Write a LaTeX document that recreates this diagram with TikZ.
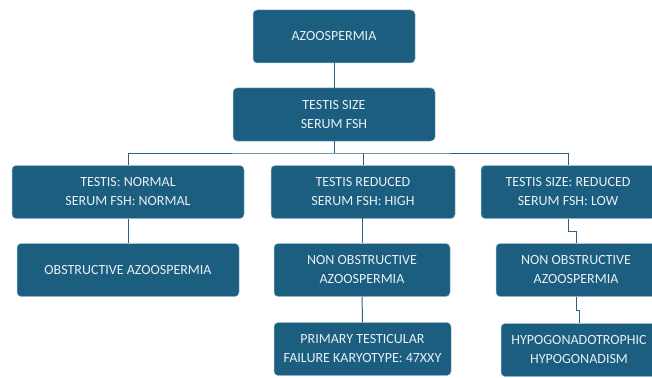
\documentclass[tikz,border=0pt]{standalone}
\usepackage{fontspec}
\setmainfont{Carlito}
\usetikzlibrary{positioning}

\definecolor{boxblue}{HTML}{1B5E80}
\definecolor{rimblue}{HTML}{9DBDD0}
\definecolor{linkblue}{HTML}{2C6283}
\definecolor{paletext}{HTML}{E9EFF3}

\begin{document}
\begin{tikzpicture}[
    x=1pt, y=-1pt,
    box/.style={draw=rimblue, line width=0.5pt, fill=boxblue, rounded corners=4pt,
                minimum width=#1, minimum height=53pt, inner sep=0pt, align=center,
                text=paletext, font=\fontsize{14}{19}\selectfont},
    link/.style={draw=linkblue, line width=1pt}
]
\useasboundingbox (0,0) rectangle (652,377);
\clip (0,0) rectangle (652,377);

% top of the tree
\node[box=162pt] (azoo) at (334,36.5) {AZOOSPERMIA};
\node[box=202pt] (size) at (334,114.5) {TESTIS SIZE\\SERUM FSH};

% three findings
\node[box=232pt] (normal) at (128,192) {TESTIS: NORMAL\\SERUM FSH: NORMAL};
\node[box=184pt] (high) at (363,192) {TESTIS REDUCED\\SERUM FSH: HIGH};
\node[box=174pt] (low) at (568,192) {TESTIS SIZE: REDUCED\\SERUM FSH: LOW};

% diagnoses
\node[box=222pt] (obstr) at (128,270) {OBSTRUCTIVE AZOOSPERMIA};
\node[box=176pt] (nonobsA) at (362,270) {NON OBSTRUCTIVE\\AZOOSPERMIA};
\node[box=160pt] (nonobsB) at (576,270) {NON OBSTRUCTIVE\\AZOOSPERMIA};
\node[box=177pt] (primary) at (362.5,349) {PRIMARY TESTICULAR\\FAILURE KARYOTYPE: 47XXY};
\node[box=156pt] (hypo) at (579,350) {HYPOGONADOTROPHIC\\HYPOGONADISM};

\coordinate (bus) at (334,153);

\draw[link] (azoo) -- (size);
\draw[link] (size.south) -- (bus);
\draw[link] (normal.north) |- (bus) -| (low.north);
\draw[link] (high.north) -- (high.north |- bus);
\draw[link] (normal) -- (obstr);
\draw[link] (high.south) -- (high.south -| nonobsA.north) -- (nonobsA.north);
\draw[link] (nonobsA) -- (primary);
\draw[link] (low.south) -- ++(0,13) -| (nonobsB.north);
\draw[link] (nonobsB.south) -- ++(0,14) -| (hypo.north);
\end{tikzpicture}
\end{document}
